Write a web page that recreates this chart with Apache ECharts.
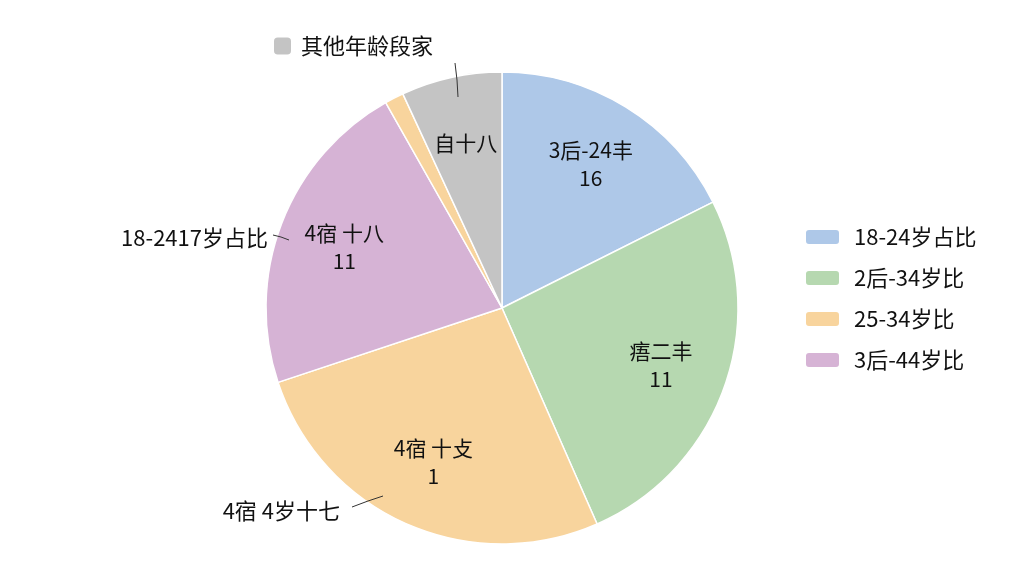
<!DOCTYPE html>
<title>age share pie</title>
<style>
body {margin: 0; background: #fff;}
#echart {height: 576px; width: 1024px;}
</style>
<div id='echart'></div>
<script src='https://cdn.jsdelivr.net/npm/echarts@6/dist/echarts.min.js'></script>
<script>
// slices, clockwise from 12 o'clock
let categories = ['18-24岁占比', '2后-34岁比', '25-34岁比', '3后-44岁比', '其它', '其他年龄段家']
let shares = [17.6, 25.8, 26.5, 21.9, 1.3, 6.9]
let innerLabels = ['3后-24丰\n16', '痦二丰\n11', '4宿 十攴\n1', '4宿 十八\n11', '', '自十八']
let outerLabels = ['', '', '4宿 4岁十七', '18-2417岁占比', '', ' ']
let colors = ['#aec8e8', '#b6d8b0', '#f8d49d', '#d6b3d5', '#f8d49d', '#c4c4c4']

let font = "'Noto Sans CJK SC', 'Noto Sans', sans-serif"
let center = [502, 308]
let clear = 'rgba(0,0,0,0)'

let baseData = categories.map((name, i) => ({name, value: shares[i], itemStyle: {color: colors[i]}}))
let innerData = categories.map((name, i) => ({name, value: shares[i], label: {show: innerLabels[i] !== '', formatter: innerLabels[i]}}))
let outerData = categories.map((name, i) => ({name, value: shares[i], label: {show: outerLabels[i] !== '', formatter: outerLabels[i]}, labelLine: {show: outerLabels[i] !== ''}}))

// where the outside labels and their leader lines sit
let outerSpots = {
	2: {x: 340, y: 511, align: 'right', labelLinePoints: [[383, 496], [368, 501], [352, 507]]},
	3: {x: 268, y: 238, align: 'right', labelLinePoints: [[289, 240], [281, 237], [273, 235]]},
	5: {x: 456, y: 55, align: 'center', labelLinePoints: [[458, 97], [457, 80], [455, 63]]},
}

let echart = echarts.init(document.querySelector('#echart'))
let option = {
	backgroundColor: '#fff',
	textStyle: {fontFamily: font},
	legend: [
		{
			data: categories.slice(0, 4), orient: 'vertical', left: 799, top: 221,
			icon: 'roundRect', itemWidth: 35, itemHeight: 16, itemGap: 19,
			textStyle: {fontSize: 22, color: '#111', fontFamily: font, padding: [0, 0, 0, 9]},
			selectedMode: false,
		},
		{
			data: ['其他年龄段家'], left: 267, top: 30,
			icon: 'roundRect', itemWidth: 19, itemHeight: 19, itemGap: 10,
			textStyle: {fontSize: 22, color: '#111', fontFamily: font, padding: [0, 0, 0, 4]},
			selectedMode: false,
		},
	],
	series: [
		{
			type: 'pie', center, radius: [0, 236], startAngle: 90, clockwise: true,
			data: baseData, silent: true, label: {show: false}, labelLine: {show: false},
			itemStyle: {borderColor: '#fff', borderWidth: 1.5},
		},
		{
			type: 'pie', center, radius: [96, 236], startAngle: 90, clockwise: true, z: 3,
			data: innerData, silent: true, itemStyle: {color: clear},
			label: {position: 'inside', fontSize: 21, lineHeight: 28, color: '#111', fontFamily: font},
		},
		{
			type: 'pie', center, radius: [0, 236], startAngle: 90, clockwise: true, z: 4,
			data: outerData, silent: true, itemStyle: {color: clear},
			label: {position: 'outside', fontSize: 22, color: '#111', fontFamily: font},
			labelLine: {lineStyle: {color: '#333', width: 1}, length: 12, length2: 20},
			labelLayout: p => outerSpots[p.dataIndex] ?? {},
		},
	],
}

echart.setOption(option)
</script>
